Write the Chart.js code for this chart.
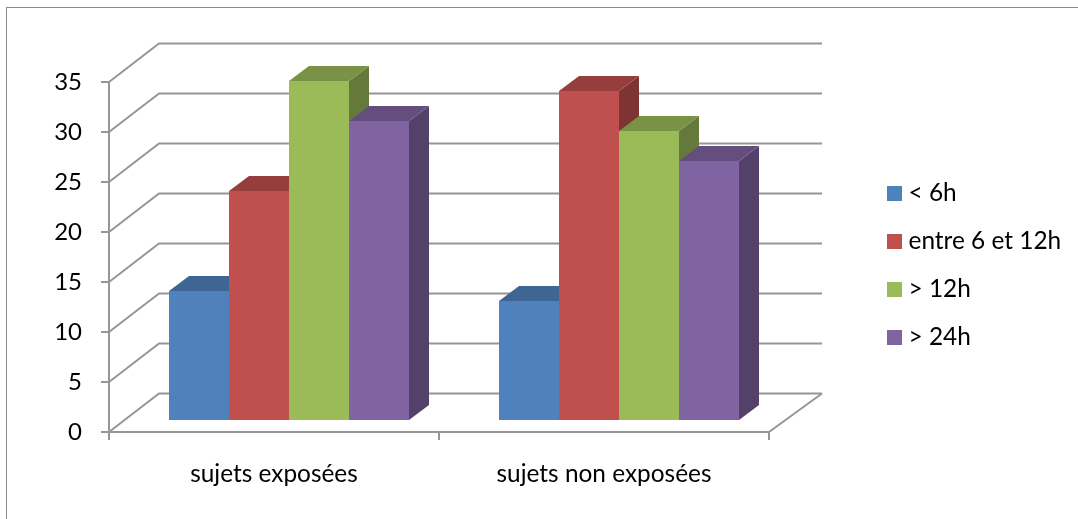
<!DOCTYPE html>
<html>
<head>
<meta charset="utf-8">
<title>Sujets</title>
<script src="https://cdn.jsdelivr.net/npm/chart.js@4"></script>
<style>
  html, body { margin: 0; padding: 0; background: #fff; overflow: hidden; }
  #wrap { position: relative; width: 1078px; height: 519px; }
  /* chart frame, only left and top edges are in view */
  #frame { position: absolute; left: 6px; top: 7px; right: -4px; bottom: -4px; border: 1.5px solid #8a8a8a; }
  #chart { position: absolute; left: 0; top: 0; }
</style>
</head>
<body>
<div id="wrap">
  <div id="frame"></div>
  <canvas id="chart" width="1078" height="519"></canvas>
</div>
<script>
// data
const categories = ['sujets exposées', 'sujets non exposées'];
const seriesNames = ['< 6h', 'entre 6 et 12h', '> 12h', '> 24h'];
const seriesColors = ['#4f81bd', '#c0504d', '#9bbb59', '#8064a2'];
const under6h = [13, 12];
const between6and12h = [23, 33];
const over12h = [34, 29];
const over24h = [30, 26];
const seriesValues = [under6h, between6and12h, over12h, over24h];

const FAMILY = 'Lato, sans-serif';
const LABEL_SIZE = 24.4;
const GRID = '#969696';

// box depth of the walls and of the bars
const WALL_DX = 50, WALL_DY = 38.5, WALL_RIGHT_DX = 53;
const BAR_SHIFT_X = 15, BAR_SHIFT_Y = 11;
const BAR_DX = 20, BAR_DY = 15;

function shade(hex, k) {
  const n = parseInt(hex.slice(1), 16);
  const r = Math.round((n >> 16) * k);
  const g = Math.round(((n >> 8) & 255) * k);
  const b = Math.round((n & 255) * k);
  return 'rgb(' + r + ',' + g + ',' + b + ')';
}

function poly(ctx, pts, fill) {
  ctx.beginPath();
  ctx.moveTo(pts[0][0], pts[0][1]);
  for (let i = 1; i < pts.length; i++) ctx.lineTo(pts[i][0], pts[i][1]);
  ctx.closePath();
  ctx.fillStyle = fill;
  ctx.fill();
}

// walls and floor behind the bars
const wallsPlugin = {
  id: 'walls',
  beforeDatasetsDraw(chart) {
    const ctx = chart.ctx, area = chart.chartArea, y = chart.scales.y;
    ctx.save();
    ctx.strokeStyle = GRID;
    ctx.lineWidth = 2;
    y.ticks.forEach(t => {
      const py = y.getPixelForValue(t.value);
      ctx.beginPath();
      ctx.moveTo(area.left, py);
      ctx.lineTo(area.left + WALL_DX, py - WALL_DY);
      ctx.lineTo(area.right + WALL_RIGHT_DX, py - WALL_DY);
      ctx.stroke();
    });
    ctx.beginPath();
    ctx.moveTo(area.right, area.bottom);
    ctx.lineTo(area.right + WALL_RIGHT_DX, area.bottom - WALL_DY);
    ctx.stroke();
    ctx.restore();
  }
};

// the default loop paints the last series first, here the bars go left to right
// so every box covers the side face of the one before it
const barsPlugin = {
  id: 'bars3d',
  beforeDatasetDraw() {
    return false;
  },
  afterDatasetsDraw(chart) {
    const ctx = chart.ctx;
    ctx.save();
    ctx.translate(BAR_SHIFT_X, -BAR_SHIFT_Y);
    seriesNames.forEach((name, i) => {
      const color = seriesColors[i];
      chart.getDatasetMeta(i).data.forEach(bar => {
        const l = bar.x - bar.width / 2, r = bar.x + bar.width / 2;
        poly(ctx, [[r, bar.y], [r + BAR_DX, bar.y - BAR_DY], [r + BAR_DX, bar.base - BAR_DY], [r, bar.base]], shade(color, 0.65));
        poly(ctx, [[l, bar.y], [l + BAR_DX, bar.y - BAR_DY], [r + BAR_DX, bar.y - BAR_DY], [r, bar.y]], shade(color, 0.78));
        bar.draw(ctx);
      });
    });
    ctx.restore();
  }
};

// legend on the right, built from the series names and colours
const legendPlugin = {
  id: 'sideLegend',
  afterDraw(chart) {
    const ctx = chart.ctx;
    ctx.save();
    ctx.font = LABEL_SIZE + 'px ' + FAMILY;
    ctx.textBaseline = 'middle';
    ctx.textAlign = 'left';
    seriesNames.forEach((name, i) => {
      const top = 186 + i * 48;
      ctx.fillStyle = seriesColors[i];
      ctx.fillRect(887, top, 15, 15);
      ctx.fillStyle = '#000';
      ctx.fillText(name, 908.5, top + 7);
    });
    ctx.restore();
  }
};

new Chart(document.getElementById('chart').getContext('2d'), {
  type: 'bar',
  data: {
    labels: categories,
    datasets: seriesNames.map((name, i) => ({
      label: name,
      data: seriesValues[i],
      backgroundColor: seriesColors[i],
      borderWidth: 0,
      barPercentage: 1,
      categoryPercentage: 240 / 330
    }))
  },
  options: {
    responsive: false,
    animation: false,
    layout: { padding: { left: 0, top: 82, right: 309, bottom: 0 } },
    plugins: {
      legend: { display: false },
      tooltip: { enabled: false }
    },
    scales: {
      x: {
        afterFit(scale) { scale.height = 87; },
        border: { color: GRID, width: 2 },
        grid: { drawOnChartArea: false, color: GRID, lineWidth: 2, tickLength: 8 },
        ticks: { color: '#000', font: { family: FAMILY, size: LABEL_SIZE }, padding: 20, maxRotation: 0 }
      },
      y: {
        min: 0,
        max: 35,
        afterFit(scale) { scale.width = 109; },
        border: { color: GRID, width: 2 },
        grid: { drawOnChartArea: false, color: GRID, lineWidth: 2, tickLength: 8 },
        ticks: { stepSize: 5, color: '#000', font: { family: FAMILY, size: 24 }, padding: 19 }
      }
    }
  },
  plugins: [wallsPlugin, barsPlugin, legendPlugin]
});
</script>
</body>
</html>
